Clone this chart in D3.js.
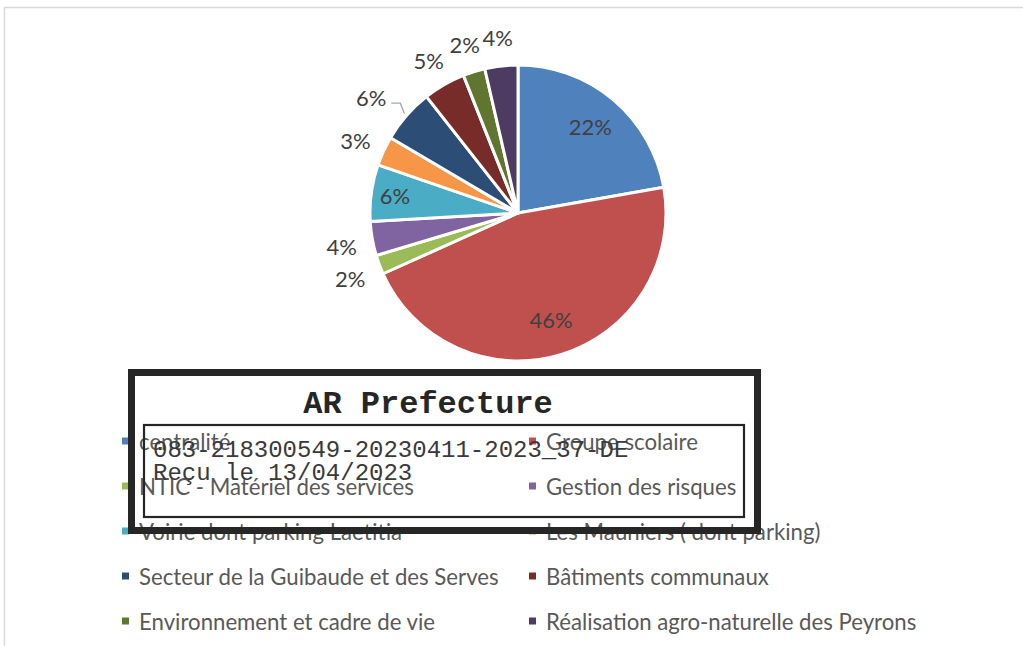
<!DOCTYPE html>
<html>
<head>
<meta charset="utf-8">
<script src="https://cdn.jsdelivr.net/npm/d3@7"></script>
<style>
  html, body { margin: 0; padding: 0; background: #fff; }
  svg { display: block; }
</style>
</head>
<body>
<div id="chart"></div>
<script>
// Données (parts en %)
const categories = [
    "centralité",
    "Groupe scolaire",
    "NTIC - Matériel des services",
    "Gestion des risques",
    "Voirie dont parking Laetitia",
    "Les Mauniers ( dont parking)",
    "Secteur de la Guibaude et des Serves",
    "Bâtiments communaux",
    "Environnement et cadre de vie",
    "Réalisation agro-naturelle des Peyrons"
];
const values = [22.2, 46.0, 2.1, 3.7, 6.2, 3.2, 5.9, 4.6, 2.4, 3.6];
const colors = ["#4F81BD", "#C0504D", "#9BBB59", "#8064A2", "#4BACC6",
                "#F79646", "#2C4D75", "#772C2A", "#5F7530", "#4D3B62"];
// étiquettes placées dans la part
const insideLabels = ["centralité", "Groupe scolaire", "Voirie dont parking Laetitia"];
// étiquette avec trait de rappel
const leaderLabels = ["Secteur de la Guibaude et des Serves"];

const stampTitle = "AR Prefecture";
const stampLines = ["083-218300549-20230411-2023_37-DE", "Reçu le 13/04/2023"];

const W = 1023, H = 646;
const svg = d3.select("#chart").append("svg")
    .attr("width", W)
    .attr("height", H);

// cadre de la zone graphique
svg.append("rect")
    .attr("x", 4.5).attr("y", 7.5)
    .attr("width", 1100).attr("height", 800)
    .attr("fill", "none")
    .attr("stroke", "#d9d9d9")
    .attr("stroke-width", 1.5);

// Camembert
const cx = 518, cy = 213, r = 148;
const total = d3.sum(values);
const data = categories.map((c, i) => ({ name: c, value: values[i], color: colors[i] }));

const pie = d3.pie().sort(null).value(d => d.value);
const arcs = pie(data);
const arc = d3.arc().innerRadius(0).outerRadius(r);

const g = svg.append("g").attr("transform", `translate(${cx},${cy})`);

g.selectAll("path.slice")
    .data(arcs)
    .enter()
    .append("path")
    .attr("class", "slice")
    .attr("d", arc)
    .attr("fill", d => d.data.color)
    .attr("stroke", "#fff")
    .attr("stroke-width", 3)
    .attr("stroke-linejoin", "round");

const pct = d => Math.round(d.data.value / total * 100) + "%";
const midAngle = d => (d.startAngle + d.endAngle) / 2;
const polar = (a, rad) => [rad * Math.sin(a), -rad * Math.cos(a)];
const isInside = d => insideLabels.includes(d.data.name);

// position (centre) des étiquettes
const labelPos = d => {
    if (isInside(d)) {
        const k = d.data.value > 10 ? 0.76 : 0.84;
        return polar(midAngle(d), r * k);
    }
    const p = polar(midAngle(d), r + 31);
    p[1] += 3;
    if (leaderLabels.includes(d.data.name)) p[0] -= 12;
    return p;
};

g.selectAll("text.pct")
    .data(arcs)
    .enter()
    .append("text")
    .attr("class", "pct")
    .attr("x", d => labelPos(d)[0])
    .attr("y", d => labelPos(d)[1] + 8)
    .attr("text-anchor", "middle")
    .style("font-family", "Lato, 'Open Sans', sans-serif")
    .style("font-size", "22px")
    .style("fill", "#404040")
    .text(pct);

// trait de rappel
g.selectAll("polyline.leader")
    .data(arcs.filter(d => leaderLabels.includes(d.data.name)))
    .enter()
    .append("polyline")
    .attr("class", "leader")
    .attr("fill", "none")
    .attr("stroke", "#a6a6a6")
    .attr("stroke-width", 1.3)
    .attr("points", d => {
        const p = labelPos(d);
        const e = polar(midAngle(d), r + 3);
        return [[p[0] + 20, p[1] + 5], [e[0] - 4, p[1] + 5], e].map(q => q.join(",")).join(" ");
    });

// Légende
const legend = svg.append("g");
const colX = [122, 529], rowY0 = 441, rowStep = 45;
const item = legend.selectAll("g.item")
    .data(data)
    .enter()
    .append("g")
    .attr("class", "item")
    .attr("transform", (d, i) => `translate(${colX[i % 2]},${rowY0 + Math.floor(i / 2) * rowStep})`);

item.append("rect")
    .attr("x", 0).attr("y", -3.5)
    .attr("width", 7).attr("height", 7)
    .attr("fill", d => d.color);

item.append("text")
    .attr("x", 17)
    .attr("y", 8.5)
    .style("font-family", "Lato, 'Open Sans', sans-serif")
    .style("font-size", "22.2px")
    .style("fill", "#595959")
    .text(d => d.name);

// Tampon "AR Prefecture"
const stamp = svg.append("g");
stamp.append("rect")
    .attr("x", 131.5).attr("y", 372.5)
    .attr("width", 626).attr("height", 158)
    .attr("fill", "none")
    .attr("stroke", "#262626")
    .attr("stroke-width", 7);
stamp.append("rect")
    .attr("x", 144).attr("y", 425)
    .attr("width", 600).attr("height", 92)
    .attr("fill", "none")
    .attr("stroke", "#262626")
    .attr("stroke-width", 2.2);
stamp.append("text")
    .attr("x", 428).attr("y", 413)
    .attr("text-anchor", "middle")
    .style("font-family", "'Liberation Mono', 'DejaVu Sans Mono', monospace")
    .style("font-weight", "bold")
    .style("font-size", "32px")
    .style("fill", "#262626")
    .text(stampTitle);
stamp.selectAll("text.line")
    .data(stampLines)
    .enter()
    .append("text")
    .attr("class", "line")
    .attr("x", 153)
    .attr("y", (d, i) => 457 + i * 23)
    .style("font-family", "'Liberation Mono', 'DejaVu Sans Mono', monospace")
    .style("font-size", "24px")
    .style("fill", "#3a3a3a")
    .text(d => d);
</script>
</body>
</html>
